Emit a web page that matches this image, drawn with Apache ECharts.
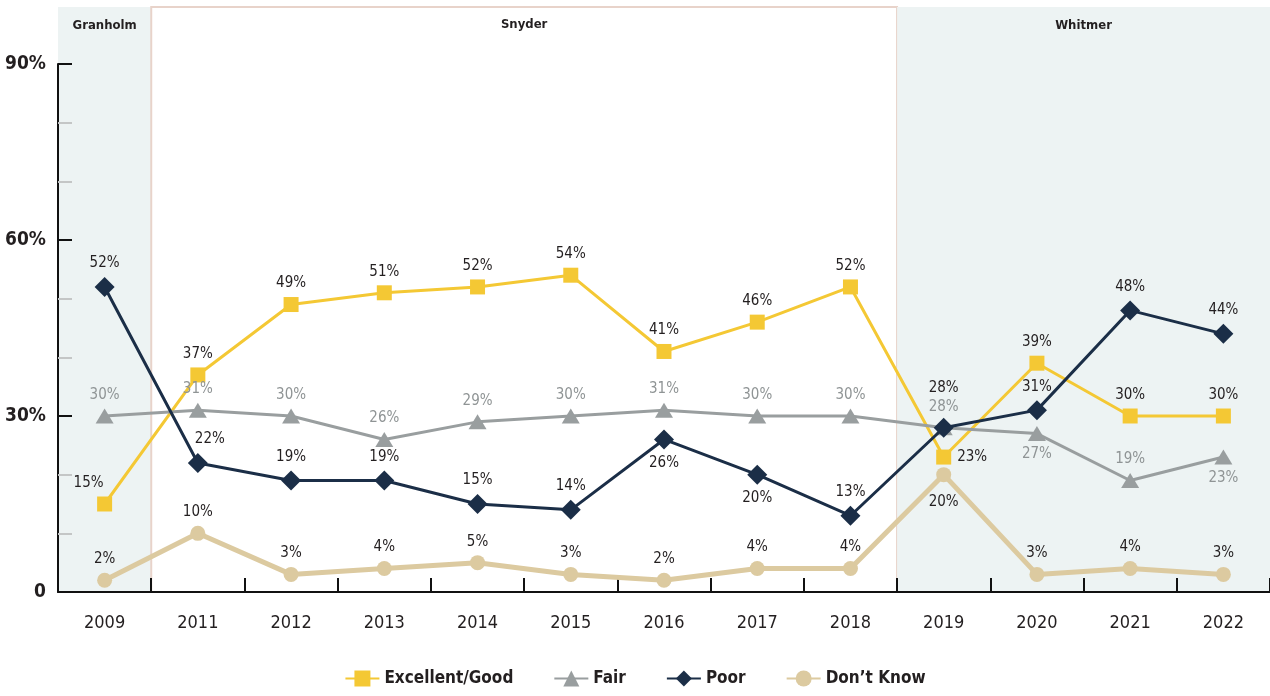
<!DOCTYPE html>
<html>
<head>
<meta charset="utf-8">
<script src="https://cdn.jsdelivr.net/npm/echarts@6/dist/echarts.min.js"></script>
<style>
html,body{margin:0;padding:0;background:#fff;}
#chart{width:1270px;height:696px;}
</style>
</head>
<body>
<div id="chart"></div>
<script>
// ---- data ----
const years = ['2009','2011','2012','2013','2014','2015','2016','2017','2018','2019','2020','2021','2022'];
const excellentGood = [15,37,49,51,52,54,41,46,52,23,39,30,30];
const fair = [30,31,30,26,29,30,31,30,30,28,27,19,23];
const poor = [52,22,19,19,15,14,26,20,13,28,31,48,44];
const dontKnow = [2,10,3,4,5,3,2,4,4,20,3,4,3];
const yTickValues = [0,30,60,90];
const eraNames = ['Granholm','Snyder','Whitmer'];
const eraStartIdx = [0,1,9];
const eraEndIdx = [0,8,12];

// ---- styling ----
const FONT = '"Liberation Sans Narrow","DejaVu Sans Condensed","Roboto Condensed",sans-serif';
const C_EG = '#f4c834', C_FAIR = '#999e9f', C_POOR = '#1b2e47', C_DK = '#dccaa0';
const TXT = '#231f20';

function pts(values, overrides){
  return values.map((v,i)=> overrides[i] ? {value:v, label:overrides[i]} : v);
}

const egOv = {0:{position:'top', offset:[-16,0]}, 9:{position:'right', distance:6}};
const fairOv = {10:{position:'bottom'}, 12:{position:'bottom'}};
const poorOv = {1:{position:'top', offset:[12,0]}, 6:{position:'bottom'}, 7:{position:'bottom'}, 9:{position:'top', offset:[0,-16]}};
const dkOv = {9:{position:'bottom', offset:[0,6]}};

const eraAreas = eraNames.map((n,i)=>{
  const white = n === 'Snyder';
  return [
    {name:n, xAxis: eraStartIdx[i]-0.5,
     itemStyle: white ? {color:'#ffffff', borderColor:'#e8d3ca', borderWidth:2} : {color:'#edf3f3'}},
    {xAxis: eraEndIdx[i]+0.5}
  ];
});

const labelBase = {show:true, position:'top', formatter:'{c}%', fontFamily:FONT, fontSize:15, color:TXT, distance:6};

const chart = echarts.init(document.getElementById('chart'), null, {renderer:'canvas'});
chart.setOption({
  animation:false,
  backgroundColor:'#ffffff',
  grid:[
    {left:58, top:64, width:1219, bottom:104},
    {left:58, top:7, width:1219, bottom:104}
  ],
  xAxis:[
    {type:'category', data:years, gridIndex:0, boundaryGap:true, z:3,
     axisLine:{show:true, lineStyle:{color:'#111', width:2}},
     axisTick:{show:true, interval:0, alignWithLabel:false, inside:true, length:14, lineStyle:{color:'#111', width:2}},
     axisLabel:{fontFamily:FONT, fontSize:18, color:TXT, margin:22}},
    {type:'value', gridIndex:1, min:-0.5, max:years.length-0.5, show:false}
  ],
  yAxis:[
    {type:'value', gridIndex:0, min:0, max:90, interval:30, z:3,
     axisLine:{show:true, lineStyle:{color:'#111', width:2}},
     axisTick:{show:true, inside:true, length:14, lineStyle:{color:'#111', width:2}},
     minorTick:{show:true, splitNumber:3, length:14, lineStyle:{color:'#c4c6c6', width:2}},
     splitLine:{show:false},
     axisLabel:{fontFamily:FONT, fontSize:19, fontWeight:'bold', color:TXT, margin:12,
       formatter:v=> yTickValues.includes(v) ? (v===0 ? '0' : v+'%') : ''}},
    {type:'value', gridIndex:1, min:0, max:100, show:false}
  ],
  legend:{
    bottom:4, left:'center', itemWidth:34, itemHeight:20, itemGap:40,
    data:['Excellent/Good','Fair','Poor',"Don\u2019t Know"],
    textStyle:{fontFamily:FONT, fontSize:17, fontWeight:'bold', color:TXT}
  },
  series:[
    {type:'line', xAxisIndex:1, yAxisIndex:1, data:[], silent:true, z:0,
     markArea:{silent:true, z:0,
       label:{show:true, position:'insideTop', distance:12, fontFamily:FONT, fontSize:13, fontWeight:'bold', color:TXT},
       data:eraAreas}},
    {name:'Excellent/Good', type:'line', data:pts(excellentGood, egOv), z:3,
     symbol:'rect', symbolSize:15, lineStyle:{color:C_EG, width:3}, itemStyle:{color:C_EG},
     label:labelBase},
    {name:'Fair', type:'line', data:pts(fair, fairOv), z:4,
     symbol:'triangle', symbolSize:[18,15], lineStyle:{color:C_FAIR, width:3}, itemStyle:{color:C_FAIR},
     label:Object.assign({}, labelBase, {color:'#8f9495'})},
    {name:"Don\u2019t Know", type:'line', data:pts(dontKnow, dkOv), z:5,
     symbol:'circle', symbolSize:15, lineStyle:{color:C_DK, width:5}, itemStyle:{color:C_DK},
     label:labelBase},
    {name:'Poor', type:'line', data:pts(poor, poorOv), z:6,
     symbol:'diamond', symbolSize:[20,20], lineStyle:{color:C_POOR, width:3}, itemStyle:{color:C_POOR},
     label:labelBase}
  ]
});
</script>
</body>
</html>
